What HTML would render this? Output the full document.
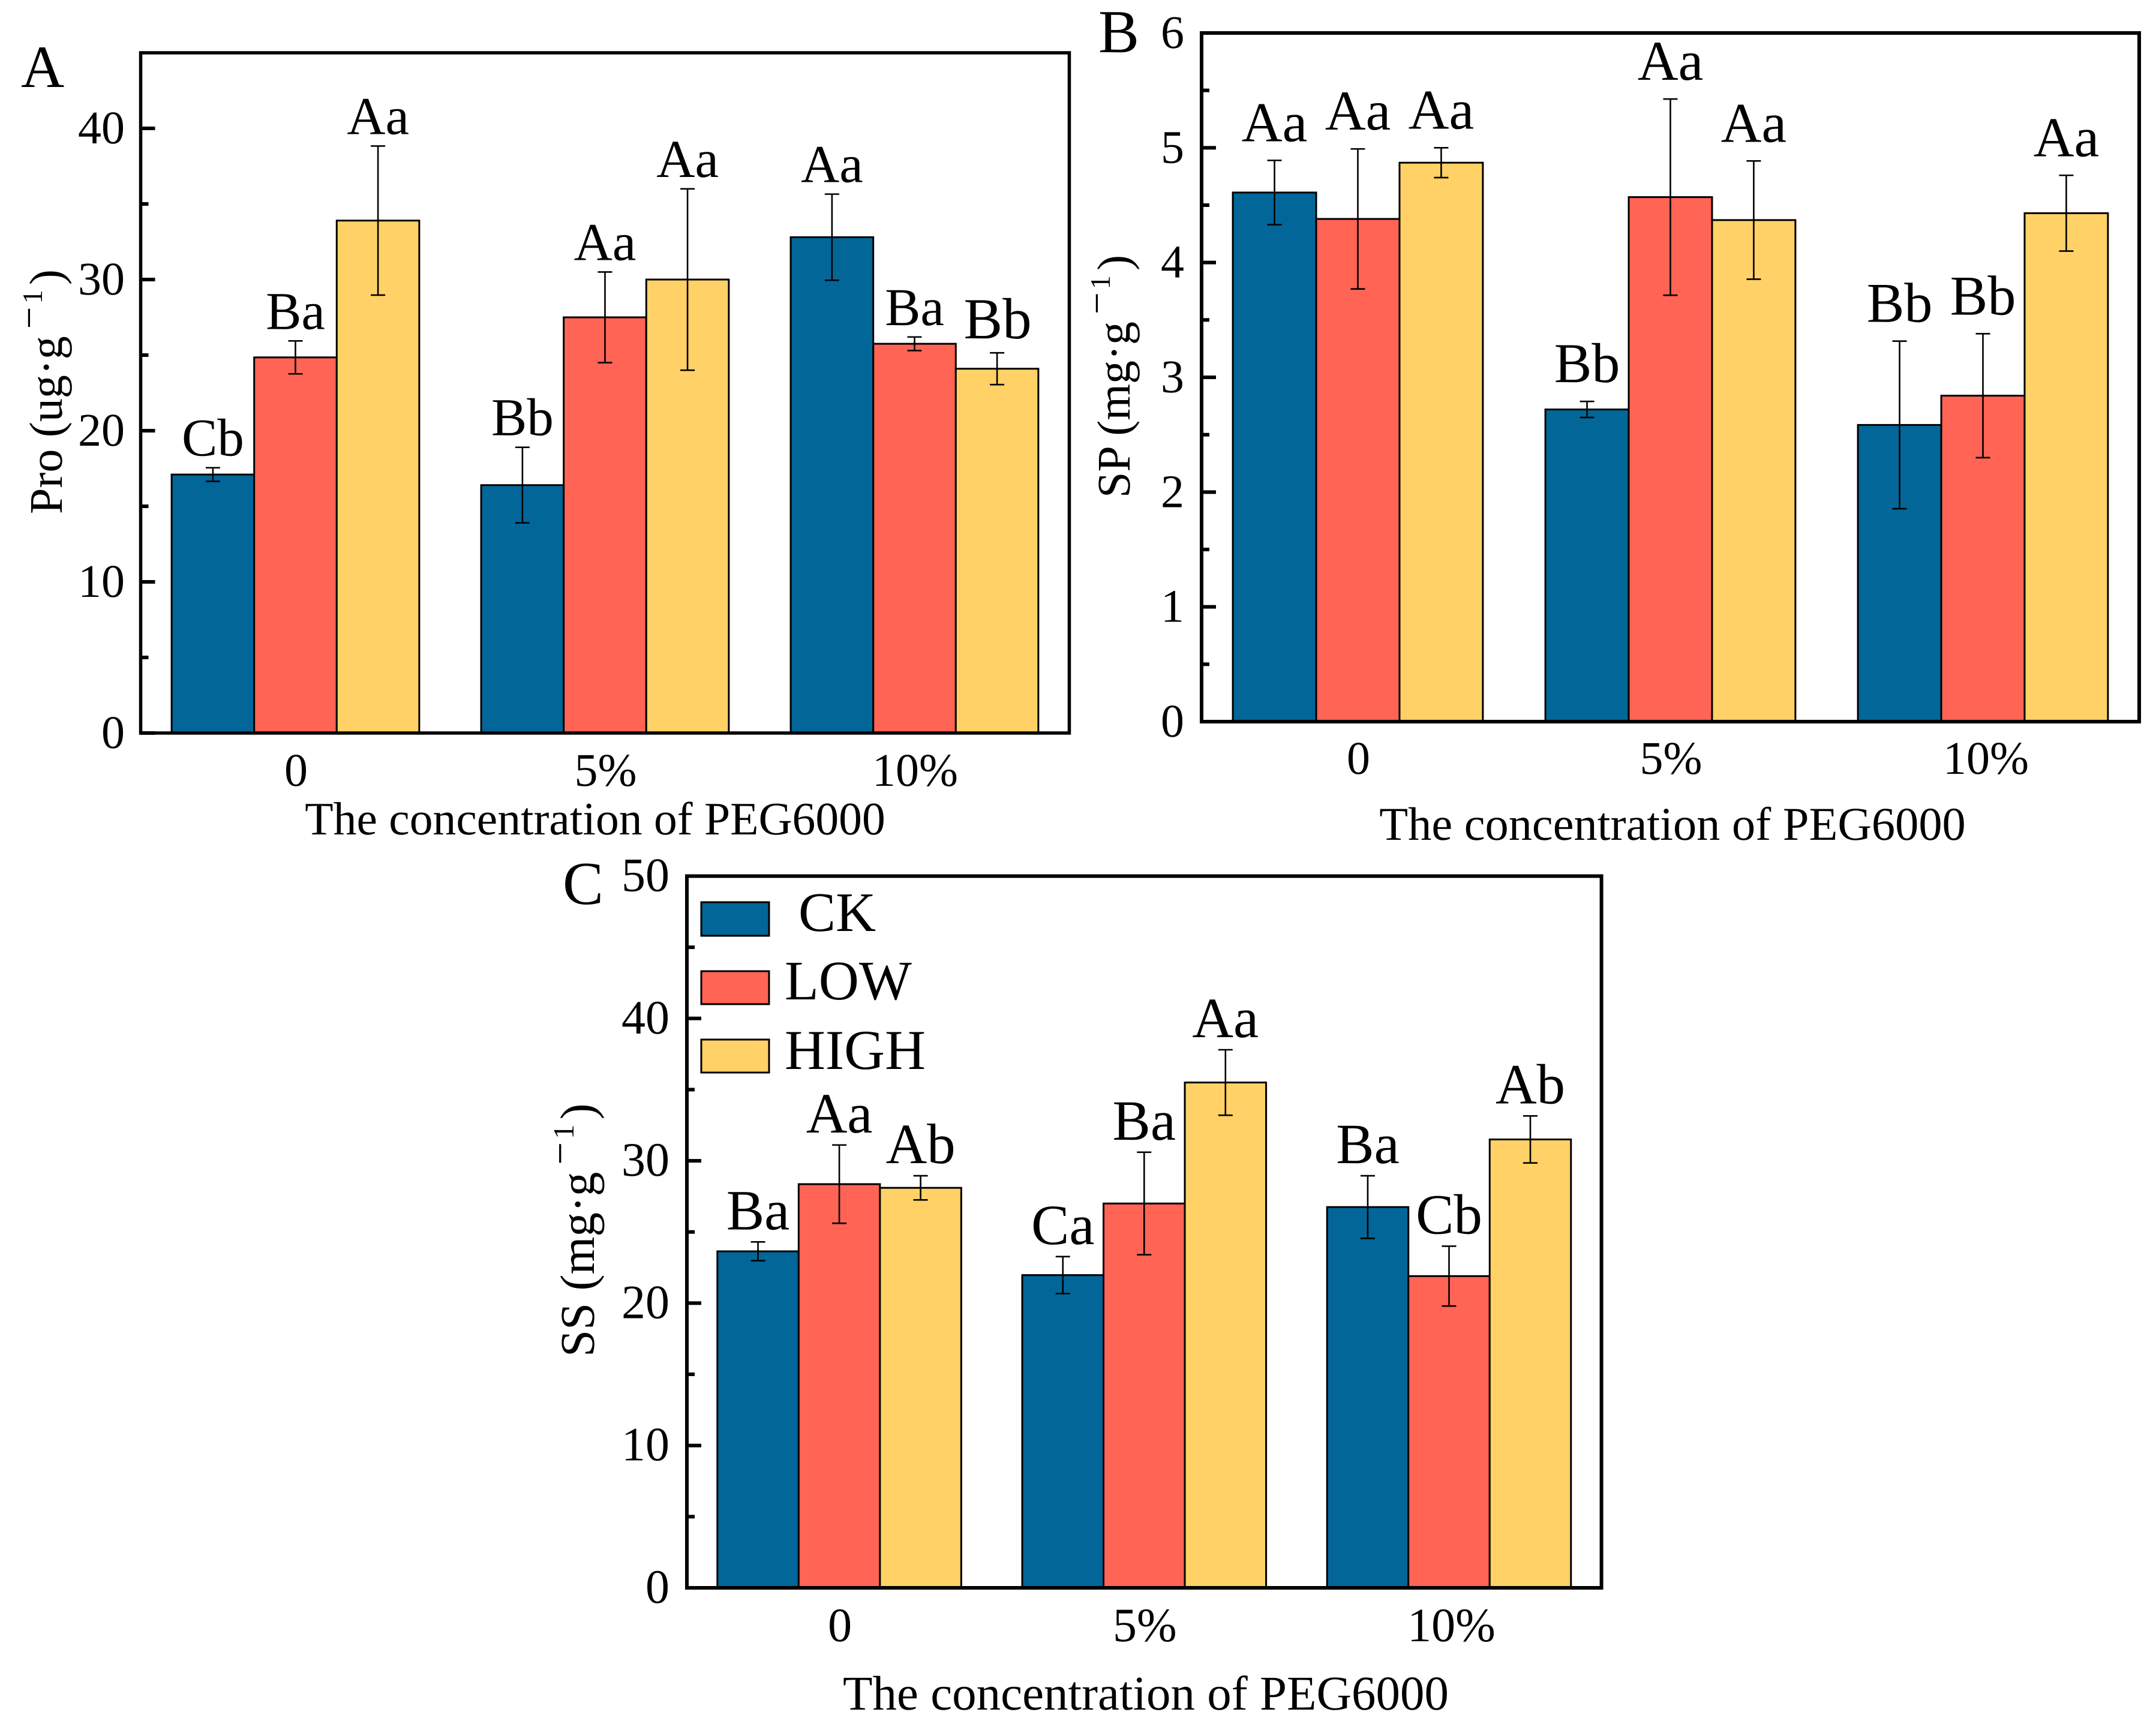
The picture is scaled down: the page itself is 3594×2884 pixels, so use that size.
<!DOCTYPE html>
<html lang="en">
<head>
<meta charset="utf-8">
<title>PEG6000 concentration bar charts</title>
<style>
  html, body { margin: 0; padding: 0; background: #fff; }
  svg { display: block; }
  text { font-family: "Liberation Serif", "Times New Roman", serif; fill: #000; text-rendering: geometricPrecision; }
</style>
</head>
<body>
<svg id="figure" xmlns="http://www.w3.org/2000/svg" width="3594" height="2884" viewBox="0 0 3594 2884">
  <rect x="0" y="0" width="3594" height="2884" fill="#fff"/>

  <g id="panel-a"></g>
  <g id="panel-b"></g>
  <g id="panel-c"></g>

  <text x="35" y="145" font-size="100">A</text>
  <text x="1831" y="87" font-size="102">B</text>
  <text x="938" y="1507" font-size="102">C</text>

  <text x="992" y="1391" font-size="77.6" text-anchor="middle">The concentration of PEG6000</text>
  <text x="2788" y="1400" font-size="78.4" text-anchor="middle">The concentration of PEG6000</text>
  <text x="1910" y="2850" font-size="81" text-anchor="middle">The concentration of PEG6000</text>

  <text transform="translate(103,857) rotate(-90)" font-size="78">Pro (ug·g<tspan dx="12" dy="-33" font-size="65">−</tspan><tspan dx="5" font-size="47">1</tspan><tspan dx="8" dy="33">)</tspan></text>
  <text transform="translate(1883,830) rotate(-90)" font-size="78">SP (mg·g<tspan dx="12" dy="-33" font-size="65">−</tspan><tspan dx="5" font-size="47">1</tspan><tspan dx="8" dy="33">)</tspan></text>
  <text transform="translate(990,2262) rotate(-90)" font-size="81">SS (mg·g<tspan dx="12" dy="-34" font-size="67">−</tspan><tspan dx="5" font-size="49">1</tspan><tspan dx="8" dy="34">)</tspan></text>

  <g id="legend">
    <g>
      <rect x="1169" y="1504" width="113" height="56" fill="#026699" stroke="#000" stroke-width="3"/>
      <text x="1331" y="1552" font-size="93">CK</text>
    </g>
    <g>
      <rect x="1169" y="1619" width="113" height="55" fill="#FF6455" stroke="#000" stroke-width="3"/>
      <text x="1308" y="1666" font-size="93">LOW</text>
    </g>
    <g>
      <rect x="1169" y="1733" width="113" height="55" fill="#FFD166" stroke="#000" stroke-width="3"/>
      <text x="1308" y="1782" font-size="94">HIGH</text>
    </g>
  </g>
</svg>

<script>
// ---- categories and series names ----
const concentrations = ['0', '5%', '10%'];
const seriesNames = ['CK', 'LOW', 'HIGH'];

// ---- Panel A: Pro (ug/g) ----
const proCK = [17.1, 16.4, 32.8];
const proLOW = [24.85, 27.5, 25.75];
const proHIGH = [33.9, 30.0, 24.1];
const proCKErr = [0.45, 2.5, 2.85];
const proLOWErr = [1.09, 3.0, 0.45];
const proHIGHErr = [4.93, 6.0, 1.05];
const proCKLetters = ['Cb', 'Bb', 'Aa'];
const proLOWLetters = ['Ba', 'Aa', 'Ba'];
const proHIGHLetters = ['Aa', 'Aa', 'Bb'];
const proMajorTicks = [0, 10, 20, 30, 40];
const proMinorTicks = [5, 15, 25, 35];

// ---- Panel B: SP (mg/g) ----
const spCK = [4.61, 2.72, 2.585];
const spLOW = [4.38, 4.57, 2.84];
const spHIGH = [4.87, 4.37, 4.43];
const spCKErr = [0.28, 0.07, 0.73];
const spLOWErr = [0.61, 0.855, 0.54];
const spHIGHErr = [0.13, 0.515, 0.33];
const spCKLetters = ['Aa', 'Bb', 'Bb'];
const spLOWLetters = ['Aa', 'Aa', 'Bb'];
const spHIGHLetters = ['Aa', 'Aa', 'Aa'];
const spMajorTicks = [0, 1, 2, 3, 4, 5, 6];
const spMinorTicks = [0.5, 1.5, 2.5, 3.5, 4.5, 5.5];

// ---- Panel C: SS (mg/g) ----
const ssCK = [23.64, 21.97, 26.75];
const ssLOW = [28.36, 27.0, 21.9];
const ssHIGH = [28.1, 35.5, 31.5];
const ssCKErr = [0.66, 1.3, 2.2];
const ssLOWErr = [2.75, 3.6, 2.1];
const ssHIGHErr = [0.85, 2.3, 1.65];
const ssCKLetters = ['Ba', 'Ca', 'Ba'];
const ssLOWLetters = ['Aa', 'Ba', 'Cb'];
const ssHIGHLetters = ['Ab', 'Aa', 'Ab'];
const ssMajorTicks = [0, 10, 20, 30, 40, 50];
const ssMinorTicks = [5, 15, 25, 35, 45];

const seriesColors = ['#026699', '#FF6455', '#FFD166'];
const SVG_NS = 'http://www.w3.org/2000/svg';

function mk(tag, props, parent) {
  const el = document.createElementNS(SVG_NS, tag);
  for (const k in props) { el.setAttribute(k, props[k]); }
  parent.appendChild(el);
  return el;
}

function drawPanel(cfg) {
  const root = document.getElementById(cfg.id);
  const yScale = v => cfg.yBase - (v - cfg.yMin) * (cfg.yBase - cfg.yTop) / (cfg.yMax - cfg.yMin);
  const xScale = i => cfg.left + (i + 0.5) * cfg.groupW;
  const barW = cfg.groupW * 0.8 / 3;

  cfg.series.forEach((s, k) => {
    s.values.forEach((v, i) => {
      const cx = xScale(i) + (k - 1) * barW;
      const barName = cfg.key + '-bar-' + seriesNames[k].toLowerCase() + '-' + i;
      const bar = mk('rect', {
        x: cx - barW / 2, y: yScale(v), width: barW, height: yScale(cfg.yMin) - yScale(v),
        fill: seriesColors[k], stroke: '#000', 'stroke-width': 3
      }, root);
      
      
    });
  });

  cfg.series.forEach((s, k) => {
    s.values.forEach((v, i) => {
      const cx = xScale(i) + (k - 1) * barW;
      const top = yScale(v + s.errs[i]);
      const bot = yScale(v - s.errs[i]);
      const err = mk('path', {
        d: 'M' + cx + ' ' + top + 'V' + bot + 'M' + (cx - 12) + ' ' + top + 'H' + (cx + 12) + 'M' + (cx - 12) + ' ' + bot + 'H' + (cx + 12),
        fill: 'none', stroke: '#000', 'stroke-width': 2.6
      }, root);
      
      

      const large = cfg.largeLabel && cfg.largeLabel[0] === k && cfg.largeLabel[1] === i;
      const label = mk('text', {
        x: cx + (large ? 1 : 0),
        y: top - (large ? cfg.largeGap : cfg.letterGap),
        'font-size': large ? cfg.largeSize : cfg.letterSize,
        'text-anchor': 'middle'
      }, root);
      label.textContent = s.letters[i];
      
      
    });
  });

  const frame = mk('rect', {
    x: cfg.left, y: cfg.yTop, width: cfg.groupW * 3, height: cfg.yBase - cfg.yTop,
    fill: 'none', stroke: '#000', 'stroke-width': cfg.frameW
  }, root);
  
  

  cfg.minorTicks.forEach(t => {
    const tick = mk('line', {
      x1: cfg.left, x2: cfg.left + 13, y1: yScale(t), y2: yScale(t), stroke: '#000', 'stroke-width': 6
    }, root);
    
    
  });

  cfg.majorTicks.forEach(t => {
    const tick = mk('line', {
      x1: cfg.left, x2: cfg.left + 24, y1: yScale(t), y2: yScale(t), stroke: '#000', 'stroke-width': 6
    }, root);
    
    

    const label = mk('text', {
      x: cfg.yLabelX, y: yScale(t) + 25, 'font-size': cfg.tickSize, 'text-anchor': 'end'
    }, root);
    label.textContent = String(t);
    
    
  });

  concentrations.forEach((c, i) => {
    const label = mk('text', {
      x: xScale(i) + 1 + (i === 2 ? cfg.lastLabelShift : 0), y: cfg.xLabelY, 'font-size': cfg.tickSize, 'text-anchor': 'middle'
    }, root);
    label.textContent = c;
    
    
  });
}

drawPanel({
  id: 'panel-a', key: 'panel-a', left: 234.5, groupW: 516, yBase: 1222, yTop: 88, yMin: 0, yMax: 45,
  yLabelX: 208, xLabelY: 1310, tickSize: 78, letterSize: 89, letterGap: 20, frameW: 5.5, lastLabelShift: 0,
  largeLabel: [2, 2], largeSize: 97, largeGap: 24,
  majorTicks: proMajorTicks, minorTicks: proMinorTicks,
  series: [
    { values: proCK, errs: proCKErr, letters: proCKLetters },
    { values: proLOW, errs: proLOWErr, letters: proLOWLetters },
    { values: proHIGH, errs: proHIGHErr, letters: proHIGHLetters }
  ]
});

drawPanel({
  id: 'panel-b', key: 'panel-b', left: 2003, groupW: 521, yBase: 1203, yTop: 55, yMin: 0, yMax: 6,
  yLabelX: 1974, xLabelY: 1290, tickSize: 78, letterSize: 94, letterGap: 32, frameW: 6, lastLabelShift: 4,
  majorTicks: spMajorTicks, minorTicks: spMinorTicks,
  series: [
    { values: spCK, errs: spCKErr, letters: spCKLetters },
    { values: spLOW, errs: spLOWErr, letters: spLOWLetters },
    { values: spHIGH, errs: spHIGHErr, letters: spHIGHLetters }
  ]
});

drawPanel({
  id: 'panel-c', key: 'panel-c', left: 1145, groupW: 508.2, yBase: 2647, yTop: 1460.5, yMin: 0, yMax: 50,
  yLabelX: 1116, xLabelY: 2736, tickSize: 80, letterSize: 95, letterGap: 21, frameW: 6, lastLabelShift: 3,
  majorTicks: ssMajorTicks, minorTicks: ssMinorTicks,
  series: [
    { values: ssCK, errs: ssCKErr, letters: ssCKLetters },
    { values: ssLOW, errs: ssLOWErr, letters: ssLOWLetters },
    { values: ssHIGH, errs: ssHIGHErr, letters: ssHIGHLetters }
  ]
});
</script>
</body>
</html>
